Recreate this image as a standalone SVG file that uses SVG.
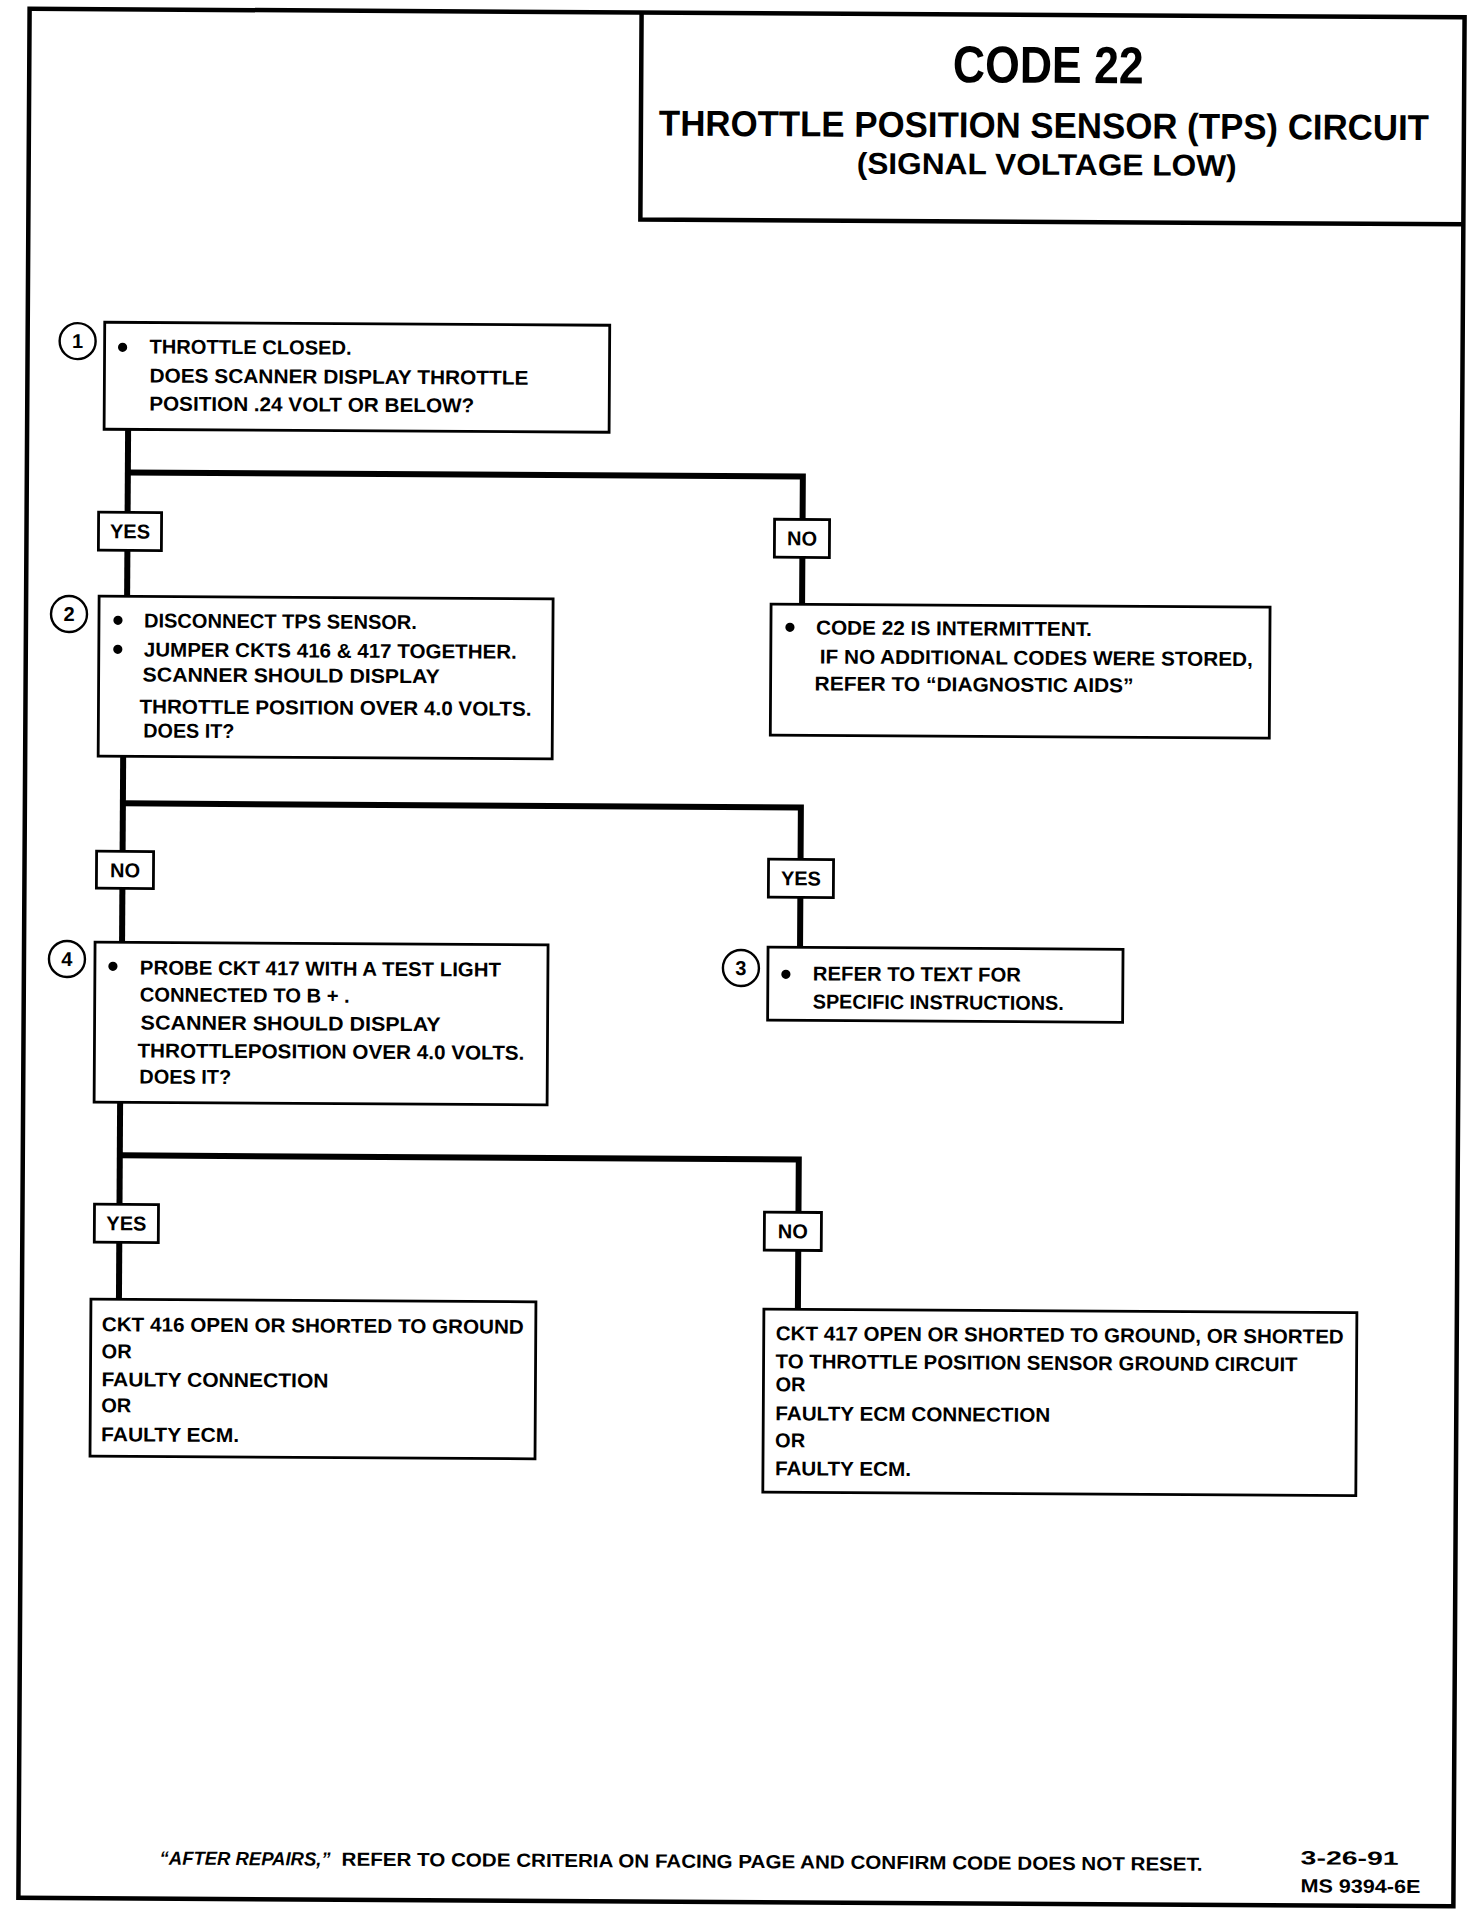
<svg xmlns="http://www.w3.org/2000/svg" width="1472" height="1910" viewBox="0 0 1472 1910">
<style>
  .box{fill:#fff;stroke:#000;stroke-width:2.8}
  .frame{fill:none;stroke:#000;stroke-width:4.5}
  .wire{fill:none;stroke:#000;stroke-width:6;stroke-linejoin:miter;stroke-linecap:butt}
  .lbl{fill:#fff;stroke:#000;stroke-width:2.8}
  .num{fill:#fff;stroke:#000;stroke-width:2.4}
  text{font-family:"Liberation Sans",Arial,sans-serif;font-weight:bold;fill:#000}
  .t{font-size:20px}
  .c{text-anchor:middle}
  .h1{font-size:52px}
  .h2{font-size:36px}
  .h3{font-size:30px}
  .ft{font-size:19px}
</style>
<rect width="1472" height="1910" fill="#fff"/>
<g transform="rotate(0.34 736 955)">
  <g id="page">
    <rect class="frame" x="24" y="13" width="1435" height="1889"/>
  </g>
  <g id="header">
    <polyline class="frame" points="636,13 636,220 1459,220"/>
    <text class="h1 c" x="1043" y="81" textLength="191" lengthAdjust="spacingAndGlyphs">CODE 22</text>
    <text class="h2 c" x="1039" y="136" textLength="770" lengthAdjust="spacingAndGlyphs">THROTTLE POSITION SENSOR (TPS) CIRCUIT</text>
    <text class="h3 c" x="1042" y="173" textLength="380" lengthAdjust="spacingAndGlyphs">(SIGNAL VOLTAGE LOW)</text>
  </g>

  <g id="connectors">
    <polyline class="wire" points="125,433 125,600"/>
    <polyline class="wire" points="125,476 800,476 800,605"/>
    <polyline class="wire" points="122,760 122,946"/>
    <polyline class="wire" points="122,807 800,807 800,948"/>
    <polyline class="wire" points="121,1105 121,1303"/>
    <polyline class="wire" points="121,1159 800,1159 800,1309"/>
    <g id="lbl-yes-1"><rect class="lbl" x="96" y="516" width="63" height="38"/><text class="t c" x="127.5" y="542">YES</text></g>
    <g id="lbl-no-1"><rect class="lbl" x="772" y="519" width="55" height="38"/><text class="t c" x="799.5" y="545">NO</text></g>
    <g id="lbl-no-2"><rect class="lbl" x="96" y="855" width="57" height="37"/><text class="t c" x="124.5" y="881">NO</text></g>
    <g id="lbl-yes-2"><rect class="lbl" x="768" y="859" width="65" height="38"/><text class="t c" x="800.5" y="885">YES</text></g>
    <g id="lbl-yes-3"><rect class="lbl" x="96" y="1208" width="64" height="38"/><text class="t c" x="128" y="1234">YES</text></g>
    <g id="lbl-no-3"><rect class="lbl" x="766" y="1212" width="57" height="38"/><text class="t c" x="794.5" y="1238">NO</text></g>
  </g>

  <g id="step1">
    <rect class="box" x="101" y="326" width="505" height="107"/>
    <circle class="num" cx="74" cy="345" r="18"/>
    <text class="t c" x="74" y="352">1</text>
    <circle cx="119" cy="351" r="4.6"/>
    <text class="t" x="146" y="357" textLength="202" lengthAdjust="spacingAndGlyphs">THROTTLE CLOSED.</text>
    <text class="t" x="146" y="386" textLength="379" lengthAdjust="spacingAndGlyphs">DOES SCANNER DISPLAY THROTTLE</text>
    <text class="t" x="146" y="414" textLength="325" lengthAdjust="spacingAndGlyphs">POSITION .24 VOLT OR BELOW?</text>
  </g>

  <g id="intermittent">
    <rect class="box" x="769" y="604" width="499" height="131"/>
    <circle cx="788" cy="627" r="4.6"/>
    <text class="t" x="814" y="634" textLength="276" lengthAdjust="spacingAndGlyphs">CODE 22 IS INTERMITTENT.</text>
    <text class="t" x="818" y="663" textLength="433" lengthAdjust="spacingAndGlyphs">IF NO ADDITIONAL CODES WERE STORED,</text>
    <text class="t" x="813" y="690" textLength="319" lengthAdjust="spacingAndGlyphs">REFER  TO “DIAGNOSTIC AIDS”</text>
  </g>

  <g id="step2">
    <rect class="box" x="97" y="600" width="454" height="160"/>
    <circle class="num" cx="67" cy="618" r="18"/>
    <text class="t c" x="67" y="625">2</text>
    <circle cx="116" cy="624" r="4.6"/>
    <circle cx="116" cy="653" r="4.6"/>
    <text class="t" x="142" y="631" textLength="273" lengthAdjust="spacingAndGlyphs">DISCONNECT TPS SENSOR.</text>
    <text class="t" x="142" y="660" textLength="373" lengthAdjust="spacingAndGlyphs">JUMPER CKTS 416 &amp; 417 TOGETHER.</text>
    <text class="t" x="141" y="685" textLength="297" lengthAdjust="spacingAndGlyphs">SCANNER SHOULD DISPLAY</text>
    <text class="t" x="138" y="717" textLength="392" lengthAdjust="spacingAndGlyphs">THROTTLE POSITION  OVER 4.0 VOLTS.</text>
    <text class="t" x="142" y="741" textLength="91" lengthAdjust="spacingAndGlyphs">DOES IT?</text>
  </g>

  <g id="step3">
    <rect class="box" x="768" y="947" width="355" height="73"/>
    <circle class="num" cx="741" cy="968" r="18"/>
    <text class="t c" x="741" y="975">3</text>
    <circle cx="786" cy="974" r="4.6"/>
    <text class="t" x="813" y="980" textLength="208" lengthAdjust="spacingAndGlyphs">REFER TO TEXT FOR</text>
    <text class="t" x="813" y="1008" textLength="251" lengthAdjust="spacingAndGlyphs">SPECIFIC INSTRUCTIONS.</text>
  </g>

  <g id="step4">
    <rect class="box" x="95" y="946" width="453" height="160"/>
    <circle class="num" cx="67" cy="963" r="18"/>
    <text class="t c" x="67" y="970">4</text>
    <circle cx="113" cy="970" r="4.6"/>
    <text class="t" x="140" y="978" textLength="361" lengthAdjust="spacingAndGlyphs">PROBE CKT 417 WITH A TEST LIGHT</text>
    <text class="t" x="140" y="1005" textLength="210" lengthAdjust="spacingAndGlyphs">CONNECTED TO B + .</text>
    <text class="t" x="141" y="1033" textLength="300" lengthAdjust="spacingAndGlyphs">SCANNER  SHOULD DISPLAY</text>
    <text class="t" x="138" y="1061" textLength="387" lengthAdjust="spacingAndGlyphs">THROTTLEPOSITION OVER 4.0 VOLTS.</text>
    <text class="t" x="140" y="1087" textLength="92" lengthAdjust="spacingAndGlyphs">DOES IT?</text>
  </g>

  <g id="result-ckt416">
    <rect class="box" x="93" y="1303" width="445" height="157"/>
    <text class="t" x="104" y="1335" textLength="422" lengthAdjust="spacingAndGlyphs">CKT 416 OPEN OR SHORTED TO GROUND</text>
    <text class="t" x="104" y="1362">OR</text>
    <text class="t" x="104" y="1390" textLength="227" lengthAdjust="spacingAndGlyphs">FAULTY CONNECTION</text>
    <text class="t" x="104" y="1416">OR</text>
    <text class="t" x="104" y="1445" textLength="138" lengthAdjust="spacingAndGlyphs">FAULTY ECM.</text>
  </g>

  <g id="result-ckt417">
    <rect class="box" x="766" y="1309" width="593" height="183"/>
    <text class="t" x="778" y="1340" textLength="568" lengthAdjust="spacingAndGlyphs">CKT 417 OPEN OR SHORTED TO GROUND, OR SHORTED</text>
    <text class="t" x="778" y="1368" textLength="522" lengthAdjust="spacingAndGlyphs">TO THROTTLE POSITION SENSOR GROUND CIRCUIT</text>
    <text class="t" x="778" y="1391">OR</text>
    <text class="t" x="778" y="1420" textLength="275" lengthAdjust="spacingAndGlyphs">FAULTY ECM CONNECTION</text>
    <text class="t" x="778" y="1447">OR</text>
    <text class="t" x="778" y="1475" textLength="136" lengthAdjust="spacingAndGlyphs">FAULTY ECM.</text>
  </g>

  <g id="footer">
    <text class="ft" x="165" y="1868" font-style="italic" textLength="171" lengthAdjust="spacingAndGlyphs">“AFTER REPAIRS,”</text>
    <text class="ft" x="347" y="1868" textLength="861" lengthAdjust="spacingAndGlyphs">REFER TO CODE CRITERIA ON FACING PAGE AND CONFIRM CODE DOES NOT RESET.</text>
    <text class="ft" x="1306" y="1861" textLength="98" lengthAdjust="spacingAndGlyphs">3-26-91</text>
    <text class="ft" x="1306" y="1889" textLength="120" lengthAdjust="spacingAndGlyphs">MS 9394-6E</text>
  </g>
</g>
</svg>
